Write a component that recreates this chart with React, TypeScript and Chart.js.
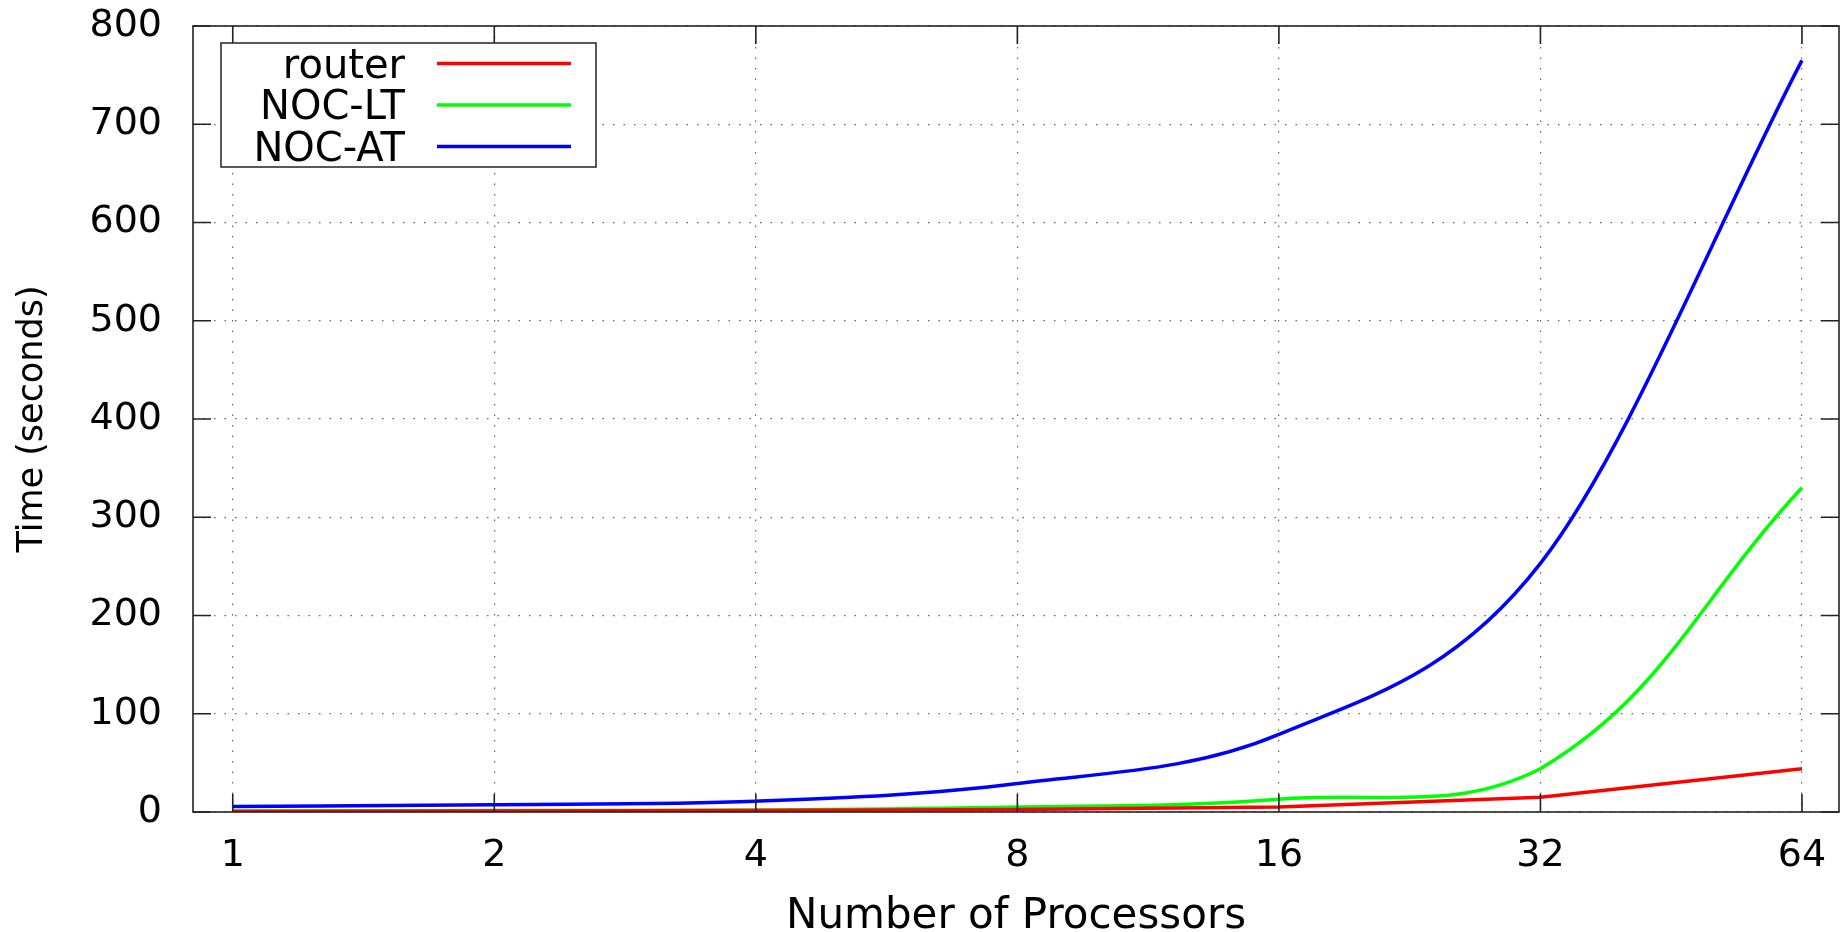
import React, { useEffect, useRef } from 'react';
import { Chart, registerables } from 'chart.js';

Chart.register(...registerables);

// ---- data ----
const processors = [1, 2, 4, 8, 16, 32, 64];
const routerTimes = [0.5, 1, 1.5, 2.5, 5, 15, 44];
const nocLtTimes = [1, 1.5, 2, 5, 13, 44, 330];
const nocAtTimes = [5.5, 7.5, 11, 29, 79, 253, 765];
const seriesLabels = ['router', 'NOC-LT', 'NOC-AT'];
const seriesColors = ['#ff0000', '#00ff00', '#0000ff'];
const seriesTension = [0, 0.4, 0.4];
const seriesInterp = ['default', 'default', 'monotone'];
const yTickValues = [0, 100, 200, 300, 400, 500, 600, 700, 800];
const xTitle = 'Number of Processors';
const yTitle = 'Time (seconds)';

const FONT = '"DejaVu Sans", sans-serif';
const TICK_IN = 18;

const framePlugin = {
  id: 'gnuplotFrame',
  afterDatasetsDraw(chart: any) {
    const { ctx, chartArea, scales } = chart;
    const { left, right, top, bottom } = chartArea;
    ctx.save();
    ctx.strokeStyle = '#222';
    ctx.lineWidth = 1.6;
    ctx.beginPath();
    scales.x.ticks.forEach((t: any) => {
      const px = scales.x.getPixelForValue(t.value);
      ctx.moveTo(px, bottom);
      ctx.lineTo(px, bottom - TICK_IN);
      ctx.moveTo(px, top);
      ctx.lineTo(px, top + TICK_IN);
    });
    scales.y.ticks.forEach((t: any) => {
      const py = scales.y.getPixelForValue(t.value);
      ctx.moveTo(left, py);
      ctx.lineTo(left + TICK_IN, py);
      ctx.moveTo(right, py);
      ctx.lineTo(right - TICK_IN, py);
    });
    ctx.stroke();
    ctx.strokeRect(left, top, right - left, bottom - top);
    ctx.restore();
  },
};

const legendPlugin = {
  id: 'boxLegend',
  afterDraw(chart: any) {
    const { ctx, chartArea } = chart;
    const bx = chartArea.left + 28;
    const by = chartArea.top + 17;
    const bw = 375;
    const bh = 124;
    ctx.save();
    ctx.fillStyle = '#fff';
    ctx.fillRect(bx, by, bw, bh);
    ctx.strokeStyle = '#222';
    ctx.lineWidth = 1.5;
    ctx.strokeRect(bx, by, bw, bh);
    ctx.font = `40px ${FONT}`;
    ctx.textAlign = 'right';
    ctx.textBaseline = 'alphabetic';
    chart.data.datasets.forEach((ds: any, i: number) => {
      const cy = by + 20.5 + i * 41.5;
      ctx.fillStyle = '#000';
      ctx.fillText(ds.label, bx + 184, cy + 14);
      ctx.strokeStyle = ds.borderColor;
      ctx.lineWidth = 3.5;
      ctx.beginPath();
      ctx.moveTo(bx + 216, cy);
      ctx.lineTo(bx + 350, cy);
      ctx.stroke();
    });
    ctx.restore();
  },
};

export default function App() {
  const canvasRef = useRef<HTMLCanvasElement | null>(null);

  useEffect(() => {
    document.body.style.margin = '0';
    const canvas = canvasRef.current;
    if (!canvas) return;
    const seriesValues = [routerTimes, nocLtTimes, nocAtTimes];
    const gridColor = 'rgba(0,0,0,0.6)';
    const chart = new Chart(canvas, {
      type: 'line',
      data: {
        datasets: seriesValues.map((vals, i) => ({
          label: seriesLabels[i],
          data: processors.map((p, j) => ({ x: p, y: vals[j] })),
          borderColor: seriesColors[i],
          backgroundColor: seriesColors[i],
          borderWidth: 3.5,
          pointRadius: 0,
          tension: seriesTension[i],
          cubicInterpolationMode: seriesInterp[i],
          fill: false,
        })),
      },
      options: {
        responsive: false,
        animation: false,
        devicePixelRatio: 1,
        layout: { padding: { left: 0, top: 26, right: 1, bottom: 0 } },
        plugins: { legend: { display: false }, tooltip: { enabled: false } },
        scales: {
          x: {
            type: 'logarithmic',
            min: 0.9,
            max: 70.6,
            afterBuildTicks: (s: any) => {
              s.ticks = processors.map((v) => ({ value: v }));
            },
            afterFit: (s: any) => {
              s.height = 120;
            },
            grid: {
              color: gridColor,
              lineWidth: 1.2,
              drawTicks: true,
              tickLength: 18,
              tickColor: 'rgba(0,0,0,0)',
            },
            border: { display: false, dash: [1.5, 9] },
            ticks: {
              autoSkip: false,
              maxRotation: 0,
              minRotation: 0,
              padding: 3,
              color: '#000',
              font: { family: FONT, size: 38 },
              callback: (v: any) => String(v),
            },
            title: {
              display: true,
              text: xTitle,
              color: '#000',
              font: { family: FONT, size: 42, lineHeight: 1 },
              padding: { top: 0, bottom: -6 },
            },
          },
          y: {
            type: 'linear',
            min: 0,
            max: 800,
            afterBuildTicks: (s: any) => {
              s.ticks = yTickValues.map((v) => ({ value: v }));
            },
            afterFit: (s: any) => {
              s.width = 193;
            },
            grid: {
              color: gridColor,
              lineWidth: 1.2,
              drawTicks: true,
              tickLength: 28,
              tickColor: 'rgba(0,0,0,0)',
            },
            border: { display: false, dash: [1.5, 9] },
            ticks: {
              padding: 3,
              color: '#000',
              font: { family: FONT, size: 38 },
            },
            title: {
              display: true,
              text: yTitle,
              color: '#000',
              font: { family: FONT, size: 35, lineHeight: 1 },
              padding: { top: 15, bottom: 0 },
            },
          },
        },
      },
      plugins: [framePlugin, legendPlugin],
    } as any);
    return () => chart.destroy();
  }, []);

  return (
    <div style={{ position: 'absolute', left: 0, top: 0, width: 1840, height: 932, background: '#fff' }}>
      <canvas ref={canvasRef} width={1840} height={932} style={{ display: 'block' }} />
    </div>
  );
}
